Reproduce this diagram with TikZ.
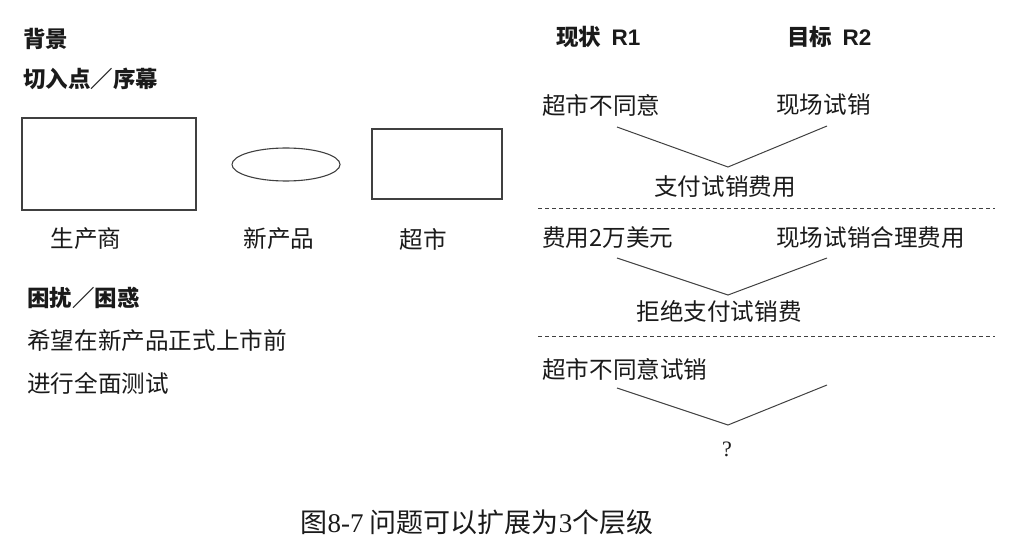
\documentclass[tikz,border=0pt]{standalone}
\usepackage{fontspec}
\setmainfont{Liberation Sans}
\newfontfamily\cjk{Noto Sans CJK SC}
\newfontfamily\serifnum{Liberation Serif}
\usetikzlibrary{shapes.geometric}
\definecolor{ink}{HTML}{1A1A1A}
\definecolor{rule}{HTML}{404040}
\begin{document}
\begin{tikzpicture}[x=1pt,y=-1pt,
  txt/.style={inner sep=0pt, anchor=west, text=ink, font=\cjk\fontsize{23.6}{28}\selectfont},
  ctxt/.style={txt, anchor=center},
  head/.style={inner sep=0pt, anchor=west, text=ink, font=\cjk\bfseries\fontsize{22.5}{26}\selectfont},
  shapebox/.style={draw=rule, line width=1.1pt, inner sep=0pt},
  vline/.style={draw=rule, line width=1pt},
  sep/.style={draw=rule, line width=1pt, dash pattern=on 4pt off 3pt}]
\useasboundingbox (0,0) rectangle (1020,556);

% left column: background
\node[head] (bg) at (23,39) {背景};
\node[head] (entry) at (23,79) {切入点／序幕};

\node[shapebox, rectangle, minimum width=174pt, minimum height=92pt] (maker) at (109,164) {};
\node[shapebox, ellipse, minimum width=108pt, minimum height=33pt] (prod) at (286,164.5) {};
\node[shapebox, rectangle, minimum width=130pt, minimum height=70pt] (shop) at (437,164) {};

\node[ctxt] (makerlbl) at (86,239) {生产商};
\node[ctxt] (prodlbl) at (279,239) {新产品};
\node[ctxt] (shoplbl) at (423,239) {超市};

\node[head] (trouble) at (27,298) {困扰／困惑};
\node[txt] (wish1) at (27,341) {希望在新产品正式上市前};
\node[txt] (wish2) at (27,383) {进行全面测试};

% right column: R1 / R2 levels
\node[head] (r1) at (556,37) {现状\ \ \fontspec{Liberation Sans}\bfseries R1};
\node[head] (r2) at (787,37) {目标\ \ \fontspec{Liberation Sans}\bfseries R2};

% level 1
\node[txt] (a1) at (542,105) {超市不同意};
\node[txt] (b1) at (776,105) {现场试销};
\coordinate (v1l) at (617,127);
\coordinate (v1m) at (728,167);
\coordinate (v1r) at (827,126);
\draw[vline] (v1l) -- (v1m) -- (v1r);
\node[ctxt] (c1) at (725,187) {支付试销费用};

\coordinate (d1a) at (538,209);
\coordinate (d1b) at (995,209);
\draw[sep] (d1a) -- (d1b);

% level 2
\node[txt] (a2) at (542,238) {费用2万美元};
\node[txt] (b2) at (776,238) {现场试销合理费用};
\coordinate (v2l) at (617,258);
\coordinate (v2m) at (728,295);
\coordinate (v2r) at (827,258);
\draw[vline] (v2l) -- (v2m) -- (v2r);
\node[ctxt] (c2) at (719,311) {拒绝支付试销费};

\coordinate (d2a) at (538,336);
\coordinate (d2b) at (995,336);
\draw[sep] (d2a) -- (d2b);

% level 3
\node[txt] (a3) at (542,369) {超市不同意试销};
\coordinate (v3l) at (617,388);
\coordinate (v3m) at (728,425);
\coordinate (v3r) at (827,385);
\draw[vline] (v3l) -- (v3m) -- (v3r);
\node[inner sep=0pt, text=ink, font=\serifnum\fontsize{22}{26}\selectfont] (c3) at (727,449) {?};

% caption
\node[inner sep=0pt, text=ink, font=\cjk\fontsize{27}{32}\selectfont] (cap) at (477,522)
  {图{\serifnum 8-7} 问题可以扩展为{\serifnum 3}个层级};
\end{tikzpicture}
\end{document}
